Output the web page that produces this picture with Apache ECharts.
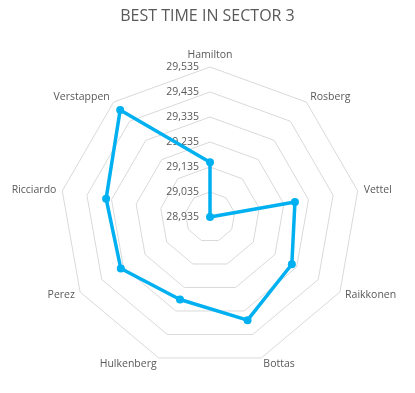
<!DOCTYPE html>
<html>
<head>
<meta charset="utf-8">
<script src="https://cdn.jsdelivr.net/npm/echarts@6/dist/echarts.min.js"></script>
<style>html,body{margin:0;padding:0;background:#fff}#c{width:415px;height:393px}</style>
</head>
<body>
<div id="c"></div>
<script>
const drivers = ['Hamilton','Rosberg','Vettel','Raikkonen','Bottas','Hulkenberg','Perez','Ricciardo','Verstappen'];
const bestTimes = [29.154, 28.935, 29.280, 29.313, 29.374, 29.286, 29.347, 29.357, 29.494];
const axisMin = 28.935;
const axisMax = 29.535;
const axisSplits = 6;

// ECharts radar runs counter-clockwise; reorder (keeping the first axis on top) to lay out clockwise
const order = [0].concat(drivers.map((_, i) => i).slice(1).reverse());
const fmt = v => v.toFixed(3).replace('.', ',');
const chart = echarts.init(document.getElementById('c'));
chart.setOption({
  animation: false,
  title: {
    text: 'BEST TIME IN SECTOR 3',
    left: 'center', top: 3,
    textStyle: {fontFamily: 'Open Sans', fontSize: 16, fontWeight: 'normal', color: '#595959'}
  },
  radar: {
    center: [210, 217],
    radius: 150,
    startAngle: 90,
    splitNumber: axisSplits,
    shape: 'polygon',
    nameGap: 6,
    axisName: {color: '#595959', fontFamily: 'Open Sans', fontSize: 10.5},
    axisLine: {show: false},
    axisTick: {show: false},
    splitLine: {lineStyle: {color: '#d9d9d9', width: 1}},
    splitArea: {show: false},
    axisLabel: {show: false},
    indicator: order.map((k, i) => {
      const o = {name: drivers[k], min: axisMin, max: axisMax};
      if (i === 0) o.axisLabel = {show: true, color: '#595959', fontFamily: 'Open Sans', fontSize: 10.5, margin: 11, formatter: fmt};
      return o;
    })
  },
  series: [{
    type: 'radar',
    symbol: 'circle',
    symbolSize: 8,
    lineStyle: {color: '#00b0f0', width: 3.5},
    itemStyle: {color: '#00b0f0'},
    data: [{value: order.map(k => bestTimes[k]), name: 'Best time'}]
  }]
});
</script>
</body>
</html>
